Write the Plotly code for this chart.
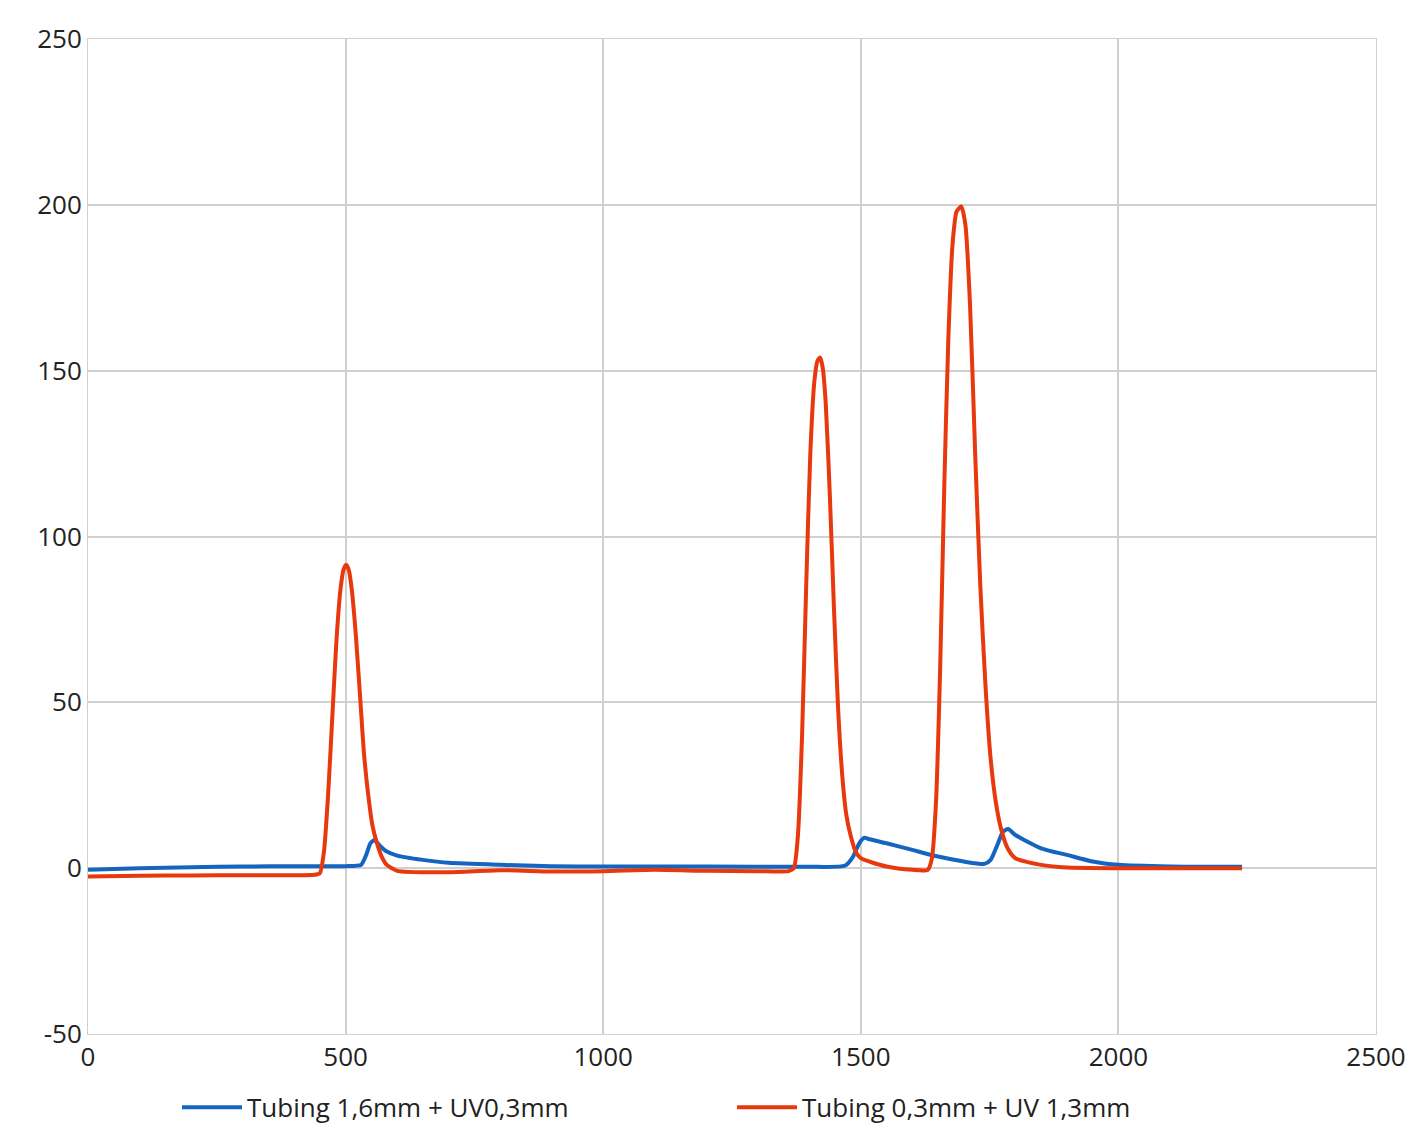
import plotly.graph_objects as go

red_x = [0,100,200,300,440,450,458,466,474,482,490,496,501,506,512,520,528,536,544,552,560,570,580,600,700,800,900,1000,1100,1200,1300,1360,1370,1378,1386,1394,1402,1410,1416,1421,1426,1432,1440,1448,1456,1464,1472,1480,1490,1500,1550,1600,1630,1638,1646,1654,1662,1670,1678,1686,1695,1703,1712,1722,1732,1742,1752,1762,1772,1785,1800,1850,1900,2000,2240]
red_y = [-2.5,-2.3,-2.2,-2.1,-2,-1.5,5,22,45,68,84,90,91.5,90,84,70,52,34,22,13,8,3.5,1,-0.8,-1.2,-0.6,-1,-0.9,-0.5,-0.8,-0.9,-0.9,0,10,40,85,125,147,153,154,151,140,112,78,48,28,16,10,5,3,0.5,-0.5,-0.5,3,20,60,115,160,188,198,199.5,194,170,125,85,55,33,20,12,6,3,1,0.2,0,0]

blue_x = [0,100,200,300,400,500,530,540,548,556,565,580,600,650,700,800,900,1000,1200,1400,1470,1485,1497,1507,1515,1550,1600,1650,1700,1740,1752,1765,1776,1786,1800,1850,1900,1950,2000,2100,2240]
blue_y = [-0.5,0,0.3,0.5,0.6,0.6,1,4,7.5,8.5,7,5,3.8,2.5,1.6,1,0.6,0.5,0.5,0.4,0.8,3.5,7.5,9.2,8.8,7.5,5.5,3.5,2,1.3,2.5,7,11,11.8,10,6,4,2,1,0.5,0.4]

y_ticks = [-50, 0, 50, 100, 150, 200, 250]
y_labels = ["-50", "0", "50", "100", "150", "200", "250"]

fig = go.Figure()
fig.add_trace(go.Scatter(x=blue_x, y=blue_y, mode="lines", name="Tubing 1,6mm + UV0,3mm",
                         line=dict(color="#1565C0", width=4, shape="spline", smoothing=0.6)))
fig.add_trace(go.Scatter(x=red_x, y=red_y, mode="lines", name="Tubing 0,3mm + UV 1,3mm",
                         line=dict(color="#E8380D", width=4, shape="spline", smoothing=0.6)))

axis = dict(showgrid=True, gridcolor="#D0D0D0", gridwidth=1.5, showline=True, linecolor="#D0D0D0",
            mirror=True, zeroline=False, tickfont=dict(size=26, color="#222"))
fig.update_layout(
    width=1424, height=1137, paper_bgcolor="white", plot_bgcolor="white",
    margin=dict(l=80, r=56, t=25, b=111),
    font=dict(family="Open Sans, sans-serif", size=26, color="#222"),
    xaxis=dict(range=[0, 2500], dtick=500, **axis),
    yaxis=dict(range=[-50, 250], tickvals=y_ticks, ticktext=y_labels, **axis),
    legend=dict(orientation="h", x=0.5, xanchor="center", y=-0.05, yanchor="top",
                font=dict(size=26), itemwidth=60, entrywidth=480),
    shapes=[dict(type="line", xref="paper", x0=0, x1=1, yref="y", y0=0, y1=0,
                 line=dict(color="#BBBBBB", width=1.5), layer="below")],
)
fig.write_html("out.html")
